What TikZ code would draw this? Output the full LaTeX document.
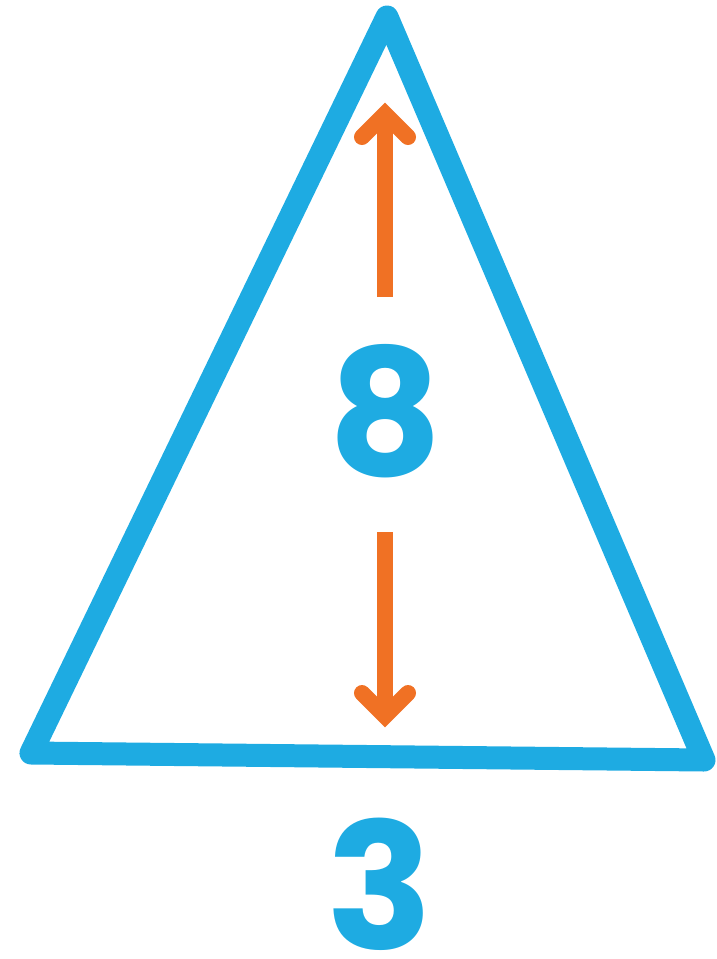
\documentclass[tikz,border=0pt]{standalone}
\usepackage{fontspec}
\setmainfont{Poppins}
\definecolor{triblue}{HTML}{1EABE2}
\definecolor{arrorange}{HTML}{F07124}
\begin{document}
\begin{tikzpicture}[x=1pt,y=-1pt,
 tri/.style={draw=triblue,line width=23pt,line join=round},
 shaft/.style={draw=arrorange,line width=16pt},
 head/.style={draw=arrorange,line width=16pt,line cap=round,line join=miter},
 num/.style={text=triblue,font=\fontsize{176}{176}\selectfont\bfseries,inner sep=0pt}]
\useasboundingbox (0,0) rectangle (716,959);
\coordinate (A) at (387,17);
\coordinate (B) at (31,753);
\coordinate (C) at (704,760);
\draw[tri] (A) -- (B) -- (C) -- cycle;
\node[num] (eight) at (386,411) {8};
\node[num] (three) at (380,884) {3};
\coordinate (uptail) at (385,297);
\coordinate (uptip) at (385,114);
\coordinate (dntail) at (385,532);
\coordinate (dntip) at (385,716);
\draw[shaft] (uptail) -- (uptip);
\draw[head] (uptip) ++(-23,23) -- (uptip) -- ++(23,23);
\draw[shaft] (dntail) -- (dntip);
\draw[head] (dntip) ++(-23,-23) -- (dntip) -- ++(23,-23);
\end{tikzpicture}
\end{document}
